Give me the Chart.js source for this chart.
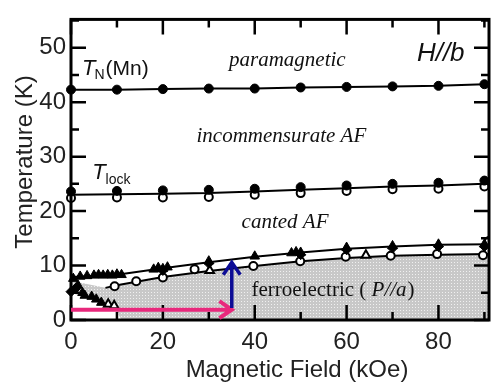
<!DOCTYPE html>
<html>
<head>
<meta charset="utf-8">
<script src="https://cdn.jsdelivr.net/npm/chart.js@4.4.1/dist/chart.umd.min.js"></script>
<style>
html, body { margin: 0; padding: 0; background: #fff; }
</style>
</head>
<body>
<canvas id="phaseChart" width="500" height="382"></canvas>
<script>
// values: field in kOe, temperature in K
var fieldSteps = [0, 10, 20, 30, 40, 50, 60, 70, 80, 90];
var tnMn = [42.3, 42.3, 42.4, 42.5, 42.5, 42.7, 42.8, 42.9, 43.0, 43.3];
var tLockFilled = [23.6, 23.7, 23.8, 23.9, 24.1, 24.4, 24.7, 25.0, 25.2, 25.6];
var tLockOpen = [22.4, 22.5, 22.5, 22.6, 23.0, 23.3, 23.7, 24.0, 24.1, 24.5];
var tLockLine = [23.0, 23.1, 23.2, 23.3, 23.6, 23.9, 24.2, 24.5, 24.7, 25.0];

var upperLineField = [0, 10, 20, 30, 40, 50, 60, 70, 80, 91];
var upperLineT = [7.9, 8.3, 9.5, 10.6, 11.6, 12.4, 13.1, 13.5, 13.8, 13.9];
var lowerLineField = [7.5, 10, 20, 30, 40, 50, 60, 70, 80, 91];
var lowerLineT = [5.9, 6.4, 7.9, 9.0, 9.9, 10.8, 11.4, 11.8, 12.0, 12.1];

var triFilledField = [0.5, 2, 3.5, 5, 6, 7, 8, 9, 10, 11, 18, 19, 20, 21, 30, 40, 48, 49, 50, 60, 70, 80, 90, 1.5, 2.5, 3, 4.5, 5.5, 6.6];
var triFilledT = [7.6, 8.0, 8.1, 8.2, 8.3, 8.2, 8.3, 8.2, 8.4, 8.3, 9.3, 9.6, 9.4, 9.7, 10.8, 11.7, 12.3, 12.5, 12.4, 13.3, 13.6, 13.9, 13.9, 6.4, 5.0, 4.5, 4.3, 3.8, 3.2];
var diamondField = [0, 1, 20, 30, 50, 60, 70, 80, 90];
var diamondT = [5.2, 5.8, 9.1, 10.4, 12.0, 12.9, 13.2, 13.5, 13.5];
var openCircField = [9.5, 14.2, 20, 26.9, 39.7, 49.9, 59.8, 69.6, 79.7, 89.7, 91];
var openCircT = [6.2, 7.1, 7.8, 9.3, 9.9, 10.8, 11.6, 11.8, 12.1, 11.9, 14.5];
var openTriField = [8.1, 9.4, 30.2, 64.2];
var openTriT = [2.9, 2.6, 9.1, 11.9];

// shaded ferroelectric region: top edge, and the white corner cut out at low field
var ferroTopField = [0, 7.5, 10, 20, 30, 40, 50, 60, 70, 80, 91];
var ferroTopT = [7.2, 5.9, 6.4, 7.9, 9.0, 9.9, 10.8, 11.4, 11.8, 12.0, 12.1];
var cornerField = [0, 3, 6.6, 9.5, 11];
var cornerT = [5.0, 4.2, 3.0, 2.3, 0];

var xMajorTicks = [0, 20, 40, 60, 80];
var xMinorTicks = [10, 30, 50, 70, 90];
var yMajorTicks = [0, 10, 20, 30, 40, 50];
var yMinorTicks = [5, 15, 25, 35, 45, 55];

function pts(xs, ys) {
    return xs.map(function (x, i) { return { x: x, y: ys[i] }; });
}

var canvas = document.getElementById('phaseChart');
var ctx = canvas.getContext('2d');

var tile = document.createElement('canvas');
tile.width = 3; tile.height = 3;
var tctx = tile.getContext('2d');
tctx.fillStyle = '#c8c8c8';
tctx.fillRect(0, 0, 3, 3);
tctx.fillStyle = '#f0f0f0';
tctx.fillRect(1, 1, 1, 1);
var grayFill = ctx.createPattern(tile, 'repeat');

var sansFont = '"Liberation Sans", Arial, sans-serif';
var serifFont = '"Liberation Serif", "DejaVu Serif", serif';

var arrows = [
    { from: [0, 1.9], to: [35, 1.9], color: '#e8287c', width: 4 },
    { from: [35, 2.2], to: [35, 10.6], color: '#0c0c96', width: 3.5 }
];

var frameTicks = {
    id: 'frameTicks',
    afterDatasetsDraw: function (chart) {
        var c = chart.ctx, a = chart.chartArea;
        var xs = chart.scales.x, ys = chart.scales.y;
        c.save();
        c.strokeStyle = '#000';
        c.lineWidth = 2.5;
        c.beginPath();
        function tick(px, py, dx, dy) { c.moveTo(px, py); c.lineTo(px + dx, py + dy); }
        xMajorTicks.forEach(function (v) {
            var p = xs.getPixelForValue(v);
            tick(p, a.bottom, 0, -15); tick(p, a.top, 0, 15);
        });
        xMinorTicks.forEach(function (v) {
            var p = xs.getPixelForValue(v);
            tick(p, a.bottom, 0, -8); tick(p, a.top, 0, 8);
        });
        yMajorTicks.forEach(function (v) {
            var p = ys.getPixelForValue(v);
            tick(a.left, p, 15, 0); tick(a.right, p, -15, 0);
        });
        yMinorTicks.forEach(function (v) {
            var p = ys.getPixelForValue(v);
            tick(a.left, p, 8, 0); tick(a.right, p, -8, 0);
        });
        c.stroke();
        c.lineWidth = 3;
        c.strokeRect(a.left, a.top, a.right - a.left, a.bottom - a.top);

        // arrows
        arrows.forEach(function (ar) {
            var x0 = xs.getPixelForValue(ar.from[0]), y0 = ys.getPixelForValue(ar.from[1]);
            var x1 = xs.getPixelForValue(ar.to[0]), y1 = ys.getPixelForValue(ar.to[1]);
            var ang = Math.atan2(y1 - y0, x1 - x0);
            c.strokeStyle = ar.color;
            c.lineWidth = ar.width;
            c.lineCap = 'butt';
            c.beginPath();
            c.moveTo(x0, y0); c.lineTo(x1, y1);
            c.moveTo(x1 - 15 * Math.cos(ang - 0.6), y1 - 15 * Math.sin(ang - 0.6));
            c.lineTo(x1, y1);
            c.lineTo(x1 - 15 * Math.cos(ang + 0.6), y1 - 15 * Math.sin(ang + 0.6));
            c.stroke();
        });
        c.restore();
    }
};

function runs(c, parts, x, y) {
    parts.forEach(function (p) {
        c.font = p.font;
        c.fillText(p.text, x, y + (p.dy || 0));
        x += c.measureText(p.text).width + (p.gap || 0);
    });
}

var labels = {
    id: 'labels',
    afterDraw: function (chart) {
        var c = chart.ctx, xs = chart.scales.x, ys = chart.scales.y;
        function X(v) { return xs.getPixelForValue(v); }
        function Y(v) { return ys.getPixelForValue(v); }
        c.save();
        c.fillStyle = '#111';
        c.textBaseline = 'alphabetic';
        c.textAlign = 'left';
        runs(c, [
            { text: 'T', font: 'italic 22px ' + sansFont, gap: -1 },
            { text: 'N', font: '14px ' + sansFont, dy: 4, gap: 1 },
            { text: '(Mn)', font: '21px ' + sansFont }
        ], X(2.4), Y(44.9));
        runs(c, [
            { text: 'T', font: 'italic 22px ' + sansFont, gap: 0 },
            { text: 'lock', font: '14px ' + sansFont, dy: 5 }
        ], X(4.6), Y(25.9));
        c.font = 'italic 26px ' + sansFont;
        c.fillText('H//b', X(75.3), Y(47.5));
        runs(c, [
            { text: 'ferroelectric ( ', font: '21px ' + serifFont },
            { text: 'P//a', font: 'italic 21px ' + serifFont, gap: 1 },
            { text: ')', font: '21px ' + serifFont }
        ], X(39.3), Y(4.4));
        c.textAlign = 'center';
        c.font = 'italic 21px ' + serifFont;
        c.fillText('paramagnetic', X(47.1), Y(46.6));
        c.fillText('incommensurate AF', X(45.8), Y(32.7));
        c.fillText('canted AF', X(46.6), Y(16.9));

        // axis titles
        c.font = '24px ' + sansFont;
        c.fillStyle = '#222';
        c.fillText('Magnetic Field (kOe)', 297, 377);
        c.translate(32, 162);
        c.rotate(-Math.PI / 2);
        c.fillText('Temperature (K)', 0, 0);
        c.restore();
    }
};

var lineStyle = { showLine: true, borderColor: '#000', borderWidth: 2, pointRadius: 0, fill: false };

new Chart(ctx, {
    type: 'scatter',
    data: {
        datasets: [
            { data: pts(ferroTopField, ferroTopT), fill: 'origin', backgroundColor: grayFill, showLine: true, borderWidth: 0, pointRadius: 0, order: 20 },
            { data: pts(cornerField, cornerT), fill: 'origin', backgroundColor: '#ffffff', showLine: true, borderWidth: 0, pointRadius: 0, order: 19 },
            Object.assign({ data: pts(fieldSteps.concat([91]), tnMn.concat([43.3])), order: 10 }, lineStyle),
            Object.assign({ data: pts(fieldSteps.concat([91]), tLockLine.concat([25.0])), order: 10 }, lineStyle),
            Object.assign({ data: pts(upperLineField, upperLineT), order: 10 }, lineStyle),
            Object.assign({ data: pts(lowerLineField, lowerLineT), order: 10 }, lineStyle),
            { data: pts(fieldSteps, tnMn), pointStyle: 'circle', pointRadius: 4.5, backgroundColor: '#000', borderColor: '#000', borderWidth: 1, order: 2, clip: false },
            { data: pts(fieldSteps, tLockOpen), pointStyle: 'circle', pointRadius: 4, backgroundColor: '#fff', borderColor: '#000', borderWidth: 2, order: 3, clip: false },
            { data: pts(fieldSteps, tLockFilled), pointStyle: 'circle', pointRadius: 4.5, backgroundColor: '#000', borderColor: '#000', borderWidth: 1, order: 2, clip: false },
            { data: pts(openCircField, openCircT), pointStyle: 'circle', pointRadius: 4, backgroundColor: '#fff', borderColor: '#000', borderWidth: 2, order: 3 },
            { data: pts(openTriField, openTriT), pointStyle: 'triangle', pointRadius: 5, backgroundColor: '#fff', borderColor: '#000', borderWidth: 2, order: 3 },
            { data: pts(diamondField, diamondT), pointStyle: 'rectRot', pointRadius: 5, backgroundColor: '#000', borderColor: '#000', borderWidth: 1, order: 2, clip: false },
            { data: pts(triFilledField, triFilledT), pointStyle: 'triangle', pointRadius: 5.5, backgroundColor: '#000', borderColor: '#000', borderWidth: 1, order: 1, clip: false }
        ]
    },
    options: {
        responsive: false,
        animation: false,
        layout: { padding: { top: 4, right: 11, left: 0, bottom: 0 } },
        plugins: { legend: { display: false }, tooltip: { enabled: false } },
        scales: {
            x: {
                type: 'linear', min: 0, max: 91,
                afterBuildTicks: function (s) { s.ticks = xMajorTicks.map(function (v) { return { value: v }; }); },
                afterFit: function (s) { s.height = 62; },
                grid: { display: false, drawTicks: false },
                border: { display: false },
                ticks: { padding: 8, color: '#222', font: { family: sansFont, size: 24 }, maxRotation: 0 }
            },
            y: {
                type: 'linear', min: 0, max: 55.2,
                afterBuildTicks: function (s) { s.ticks = yMajorTicks.map(function (v) { return { value: v }; }); },
                afterFit: function (s) { s.width = 71; },
                grid: { display: false, drawTicks: false },
                border: { display: false },
                ticks: { padding: 5, color: '#222', font: { family: sansFont, size: 24 } }
            }
        }
    },
    plugins: [frameTicks, labels]
});
</script>
</body>
</html>
